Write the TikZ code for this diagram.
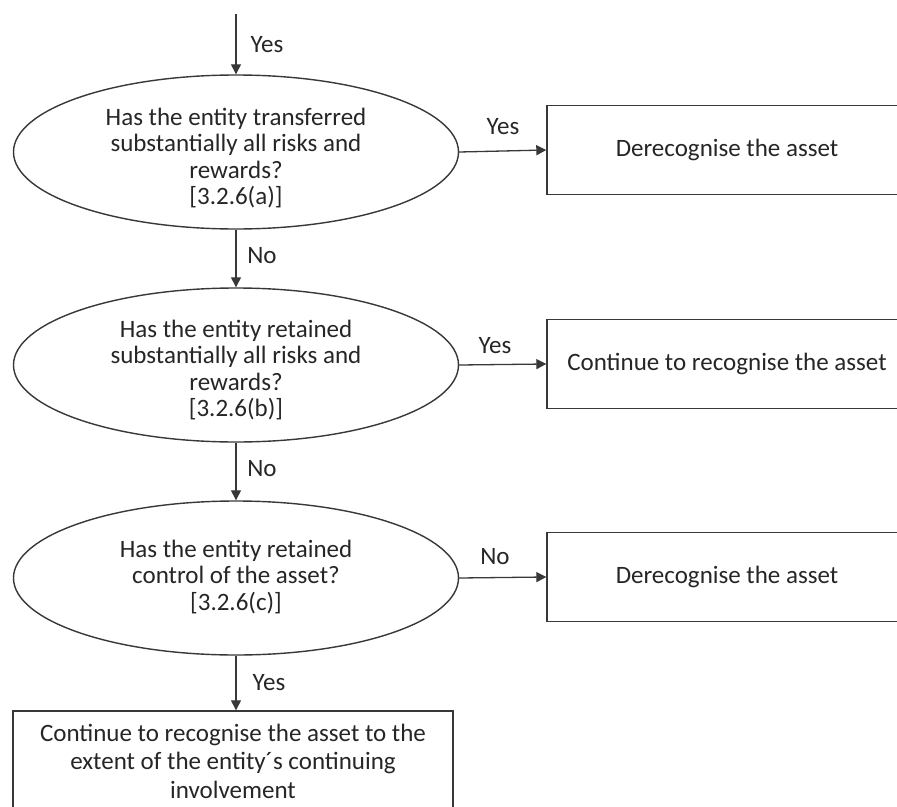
\documentclass[tikz,border=0pt]{standalone}
\usepackage{fontspec}
\setmainfont{Carlito}
\usetikzlibrary{shapes.geometric,arrows.meta}
\definecolor{txt}{HTML}{262626}
\definecolor{ln}{HTML}{383838}
\begin{document}
\begin{tikzpicture}[x=1pt,y=-1pt,
  every node/.style={text=txt,font=\fontsize{25}{26.5}\selectfont},
  decision/.style={ellipse,draw=ln,line width=1.4pt,minimum width=445pt,minimum height=154pt,inner sep=0pt},
  dtext/.style={align=center,inner sep=0pt},
  outbox/.style={rectangle,draw=ln,line width=1.4pt,minimum width=360pt,minimum height=89pt,inner sep=0pt,align=center},
  endbox/.style={rectangle,draw=ln,line width=1.4pt,minimum width=440pt,minimum height=100pt,inner sep=0pt,align=center,font=\fontsize{25}{28.5}\selectfont},
  flow/.style={draw=ln,line width=1.3pt,-{Triangle[length=10pt,width=10pt]}},
  lbl/.style={inner sep=0pt}]
\useasboundingbox (0,0) rectangle (897,806);
\clip (0,0) rectangle (897,806);
\fill[white] (0,0) rectangle (897,806);
\coordinate (start) at (236,14);
\node[decision] (e1) at (236,152) {};
\node[dtext] (e1t) at (236,158) {Has the entity transferred\\substantially all risks and\\rewards?\\{[3.2.6(a)]}};
\node[decision] (e2) at (236,365) {};
\node[dtext] (e2t) at (236,370) {Has the entity retained\\substantially all risks and\\rewards?\\{[3.2.6(b)]}};
\node[decision] (e3) at (236,578) {};
\node[dtext] (e3t) at (236,577) {Has the entity retained\\control of the asset?\\{[3.2.6(c)]}};
\node[outbox] (b1) at (727,150) {Derecognise the asset};
\node[outbox] (b2) at (727,364) {Continue to recognise the asset};
\node[outbox] (b3) at (727,577) {Derecognise the asset};
\node[endbox] (b4) at (233,761) {Continue to recognise the asset to the\\extent of the entity´s continuing\\involvement};
\draw[flow] (start) -- (e1.north);
\draw[flow] (e1.south) -- (e2.north);
\draw[flow] (e2.south) -- (e3.north);
\draw[flow] (e3.south) -- (e3.south |- b4.north);
\draw[flow] (e1.east) -- (b1.west);
\draw[flow] (e2.east) -- (b2.west);
\draw[flow] (e3.east) -- (b3.west);
\node[lbl] (l0) at (267,45) {Yes};
\node[lbl] (l1) at (503,127) {Yes};
\node[lbl] (l2) at (262,256) {No};
\node[lbl] (l3) at (495,346) {Yes};
\node[lbl] (l4) at (262,469) {No};
\node[lbl] (l5) at (495,557) {No};
\node[lbl] (l6) at (269,683) {Yes};
\end{tikzpicture}
\end{document}
